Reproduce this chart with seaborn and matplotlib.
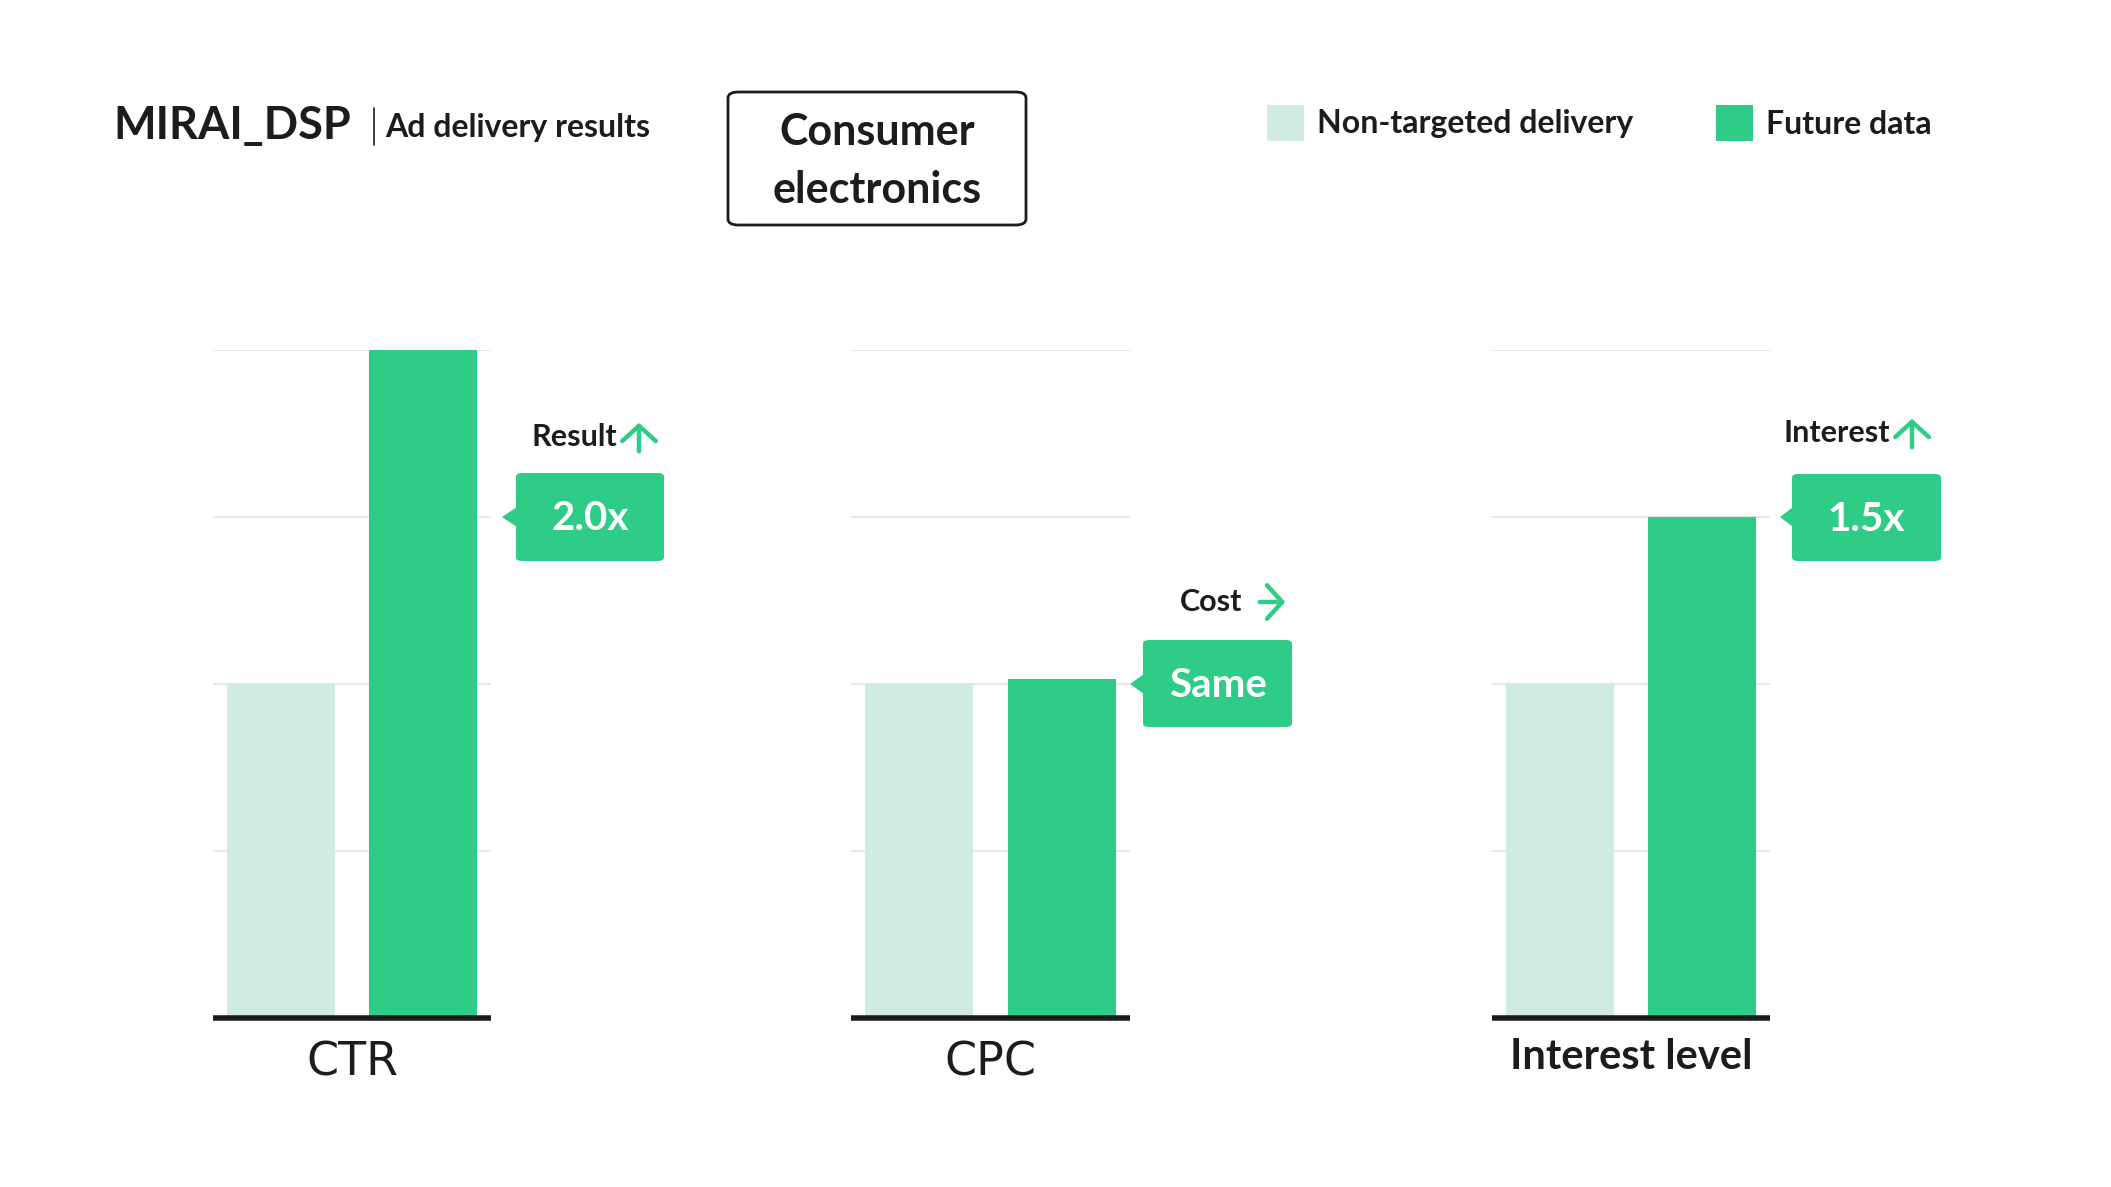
import pandas as pd
import seaborn as sns
import matplotlib.pyplot as plt
from matplotlib.patches import FancyBboxPatch, Polygon, Rectangle, FancyArrowPatch
from matplotlib.lines import Line2D

# values (grid step = 1)
metrics = ["CTR", "CPC", "Interest level"]
series = ["Non-targeted delivery", "Future data"]
non_targeted = [2.0, 2.0, 2.0]
future_data = [4.0, 2.03, 3.0]
callout_text = ["2.0x", "Same", "1.5x"]
callout_head = ["Result", "Cost", "Interest"]

LIGHT = "#D0ECE0"
GREEN = "#2ECC87"
INK = "#1c1c1c"
W, H = 2111, 1187

sns.set_theme(style="white")
plt.rcParams['font.family'] = ['Lato', 'DejaVu Sans']

df = pd.DataFrame({
    "metric": [m for m in metrics for _ in series],
    "delivery": series * len(metrics),
    "value": [v for pair in zip(non_targeted, future_data) for v in pair],
})
palette = dict(zip(series, [LIGHT, GREEN]))

fig = plt.figure(figsize=(W / 100, H / 100), dpi=100)


def fx(x):
    return x / W


def fy(y):
    return 1 - y / H


# axes boxes in pixels (left, right), shared top/bottom
ax_x = [(213, 491), (851, 1130), (1492, 1770)]
top, bottom = 350, 1018

for i, m in enumerate(metrics):
    l, r = ax_x[i]
    ax = fig.add_axes([fx(l), fy(bottom), (r - l) / W, (bottom - top) / H])
    sub = df[df["metric"] == m]
    sns.barplot(data=sub, x="delivery", y="value", hue="delivery", palette=palette,
                width=0.76, linewidth=0, saturation=1, legend=False, ax=ax)
    ax.set_ylim(0, 4)
    ax.set_xlim(-0.476, 1.476)
    ax.set_yticks([0, 1, 2, 3, 4])
    ax.yaxis.grid(True, color="#e3e3e3", lw=1.2)
    ax.set_axisbelow(True)
    ax.set_yticklabels([])
    ax.set_xticks([])
    ax.set_xlabel("")
    ax.set_ylabel("")
    ax.tick_params(length=0)
    for s in ["top", "right", "left"]:
        ax.spines[s].set_visible(False)
    ax.spines["bottom"].set_color(INK)
    ax.spines["bottom"].set_linewidth(4)
    ax.spines["bottom"].set_capstyle("butt")
    if m == "Interest level":
        ax.text(0.5, -0.058, m, transform=ax.transAxes, ha="center", va="center",
                fontsize=30, fontweight="bold", color=INK)
    else:
        ax.text(0.5, -0.067, m, transform=ax.transAxes, ha="center", va="center",
                fontsize=33, color=INK, family="DejaVu Sans")

# callouts (box, pointer, heading with arrow)
boxes = [(516, 473, 664, 561, 502, 517), (1143, 640, 1292, 727, 1130, 684),
         (1792, 474, 1941, 561, 1780, 517)]
heads = [(617, 437), (1242, 602), (1890, 433)]
for i in range(3):
    x0, y0, x1, y1, tx, ty = boxes[i]
    fig.patches.append(FancyBboxPatch((fx(x0), fy(y1)), fx(x1 - x0), (y1 - y0) / H,
                                      boxstyle="round,pad=0,rounding_size=0.003",
                                      transform=fig.transFigure, fc=GREEN, ec="none"))
    fig.patches.append(Polygon([(fx(tx), fy(ty)), (fx(x0 + 1), fy(ty - 10)), (fx(x0 + 1), fy(ty + 10))],
                               closed=True, transform=fig.transFigure, fc=GREEN, ec="none"))
    fig.text(fx((x0 + x1) / 2), fy((y0 + y1) / 2 + 2), callout_text[i], ha="center", va="center",
             fontsize=29, fontweight="bold", color="white")
    hx, hy = heads[i]
    fig.text(fx(hx), fy(hy), callout_head[i], ha="right", va="center",
             fontsize=22, fontweight="bold", color=INK)
    if i == 1:
        a, b = (hx + 15, hy), (hx + 46, hy)
    else:
        a, b = (hx + 22, hy + 17), (hx + 22, hy - 17)
    fig.patches.append(FancyArrowPatch((fx(a[0]), fy(a[1])), (fx(b[0]), fy(b[1])),
                                       transform=fig.transFigure, color=GREEN, lw=3.2,
                                       arrowstyle="->,head_length=0.5,head_width=0.55",
                                       mutation_scale=22))

# header
fig.text(fx(113), fy(126), "MIRAI_DSP", ha="left", va="center", fontsize=32.5,
         fontweight="bold", color=INK)
fig.lines.append(Line2D([fx(374), fx(374)], [fy(108), fy(145)], transform=fig.transFigure,
                        color=INK, lw=1.2))
fig.text(fx(385), fy(127), "Ad delivery results", ha="left", va="center", fontsize=23,
         fontweight="bold", color=INK)

fig.patches.append(FancyBboxPatch((fx(728), fy(225)), fx(1026 - 728), (225 - 92) / H,
                                  boxstyle="round,pad=0,rounding_size=0.005",
                                  transform=fig.transFigure, fc="white", ec=INK, lw=2))
fig.text(fx(877), fy(161), "Consumer\nelectronics", ha="center", va="center", fontsize=31,
         fontweight="bold", color=INK, linespacing=1.55)

# legend
for (sx, txt, col) in [(1267, series[0], LIGHT), (1716, series[1], GREEN)]:
    fig.patches.append(Rectangle((fx(sx), fy(141)), fx(37), 36 / H, transform=fig.transFigure,
                                 fc=col, ec="none"))
    fig.text(fx(sx + 50), fy(124), txt, ha="left", va="center", fontsize=23,
             fontweight="bold", color=INK)

fig.savefig("out.png", dpi=100, facecolor="white")
